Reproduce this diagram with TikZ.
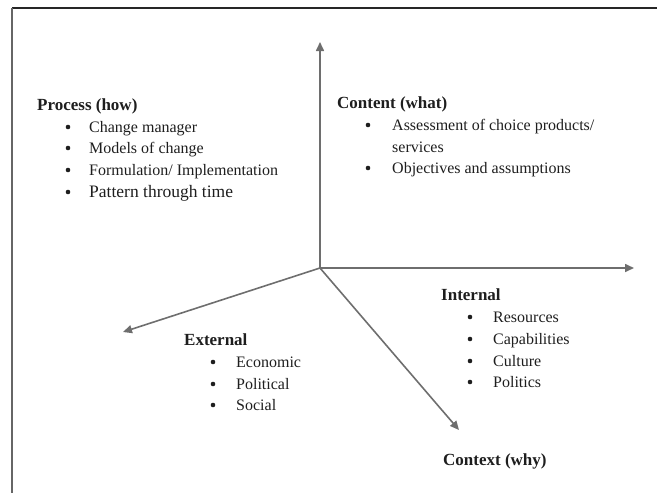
\documentclass[tikz,border=0pt]{standalone}
\usepackage{fontspec}
\setmainfont{Liberation Serif}
\usetikzlibrary{arrows.meta}
\definecolor{osi}{HTML}{6E6E6E}
\definecolor{besedilo}{HTML}{1E1E1E}

\begin{document}
\begin{tikzpicture}[x=1pt,y=-1pt,
  os/.style={-{Triangle[length=9pt,width=8pt]},line width=1.6pt,osi},
  naslov/.style={anchor=base west,inner sep=0pt,font=\fontsize{17}{20}\selectfont\bfseries,text=besedilo},
  tekst/.style={anchor=base west,inner sep=0pt,font=\fontsize{16}{19}\selectfont,text=besedilo},
  pika/.style={circle,fill=besedilo,inner sep=0pt,minimum size=4.6pt}]
\useasboundingbox (0,0) rectangle (657,493);

%okvir
\draw[line width=1.6pt,black!85] (12,8)--(657,8);
\draw[line width=1.8pt,black!60] (12,8)--(12,493);

%osi
\coordinate (O) at (320,268);
\coordinate (gor) at (320,42);
\coordinate (desno) at (634,268);
\coordinate (levo) at (123,332);
\coordinate (dol) at (459,430);
\draw[os] (O)--(gor);
\draw[os] (O)--(desno);
\draw[os] (O)--(levo);
\draw[os] (O)--(dol);

%proces
\node[naslov] (proces) at (37,110) {Process (how)};
\node[pika] (pp1) at (68,127) {}; \node[tekst] (p1) at (89,132) {Change manager};
\node[pika] (pp2) at (68,148) {}; \node[tekst] (p2) at (89,153) {Models of change};
\node[pika] (pp3) at (68,170) {}; \node[tekst] (p3) at (89,175) {Formulation/ Implementation};
\node[pika] (pp4) at (68,192) {}; \node[tekst,font=\fontsize{17.5}{20}\selectfont] (p4) at (89,197.5) {Pattern through time};

%vsebina
\node[naslov] (vsebina) at (337,108) {Content (what)};
\node[pika] (vp1) at (368,125) {}; \node[tekst] (v1) at (392,130) {Assessment of choice products/};
\node[tekst] (v1b) at (392,152) {services};
\node[pika] (vp2) at (368,168) {}; \node[tekst] (v2) at (392,173) {Objectives and assumptions};

%notranji
\node[naslov] (notranji) at (441,300) {Internal};
\node[pika] (np1) at (470,317) {}; \node[tekst] (n1) at (493,322) {Resources};
\node[pika] (np2) at (470,339) {}; \node[tekst] (n2) at (493,344) {Capabilities};
\node[pika] (np3) at (470,361) {}; \node[tekst] (n3) at (493,366) {Culture};
\node[pika] (np4) at (470,382) {}; \node[tekst] (n4) at (493,387) {Politics};

%zunanji
\node[naslov] (zunanji) at (184,345) {External};
\node[pika] (zp1) at (213,362) {}; \node[tekst] (z1) at (236,367) {Economic};
\node[pika] (zp2) at (213,384) {}; \node[tekst] (z2) at (236,389) {Political};
\node[pika] (zp3) at (213,405) {}; \node[tekst] (z3) at (236,410) {Social};

%kontekst
\node[naslov] (kontekst) at (443,465) {Context (why)};

\end{tikzpicture}
\end{document}
